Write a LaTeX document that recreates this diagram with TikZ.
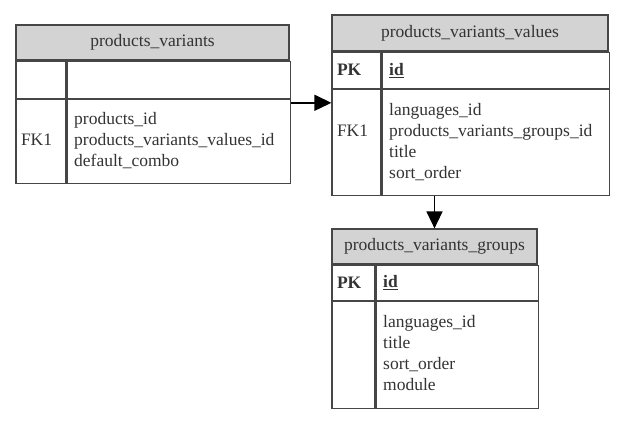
\documentclass[tikz,border=0pt]{standalone}
\usepackage{fontspec}
\setmainfont{Liberation Serif}
\usetikzlibrary{positioning,arrows.meta}
\definecolor{headgray}{RGB}{211,211,211}
\definecolor{linegray}{RGB}{70,70,70}
\tikzstyle{tablehead} = [rectangle, draw=linegray, line width=1.2pt, fill=headgray, text centered, minimum height=35pt]
\tikzstyle{keycell} = [rectangle, draw=linegray, line width=1.2pt, align=left, inner xsep=5pt, inner ysep=0pt]
\tikzstyle{fieldcell} = [rectangle, draw=linegray, line width=1.2pt, align=left, inner xsep=7pt, inner ysep=0pt]
\tikzstyle{connector} = [line width=1.5pt, -{Triangle[length=17pt,width=16pt]}]

\begin{document}
\begin{tikzpicture}[x=1pt, y=1pt, font=\fontsize{17.5}{21}\selectfont, text=black!80]
            \useasboundingbox (0,0) rectangle (624,421);
            % products_variants
            \node (pvhead) [tablehead, minimum width=273pt] at (152.5,378.5) {products\_variants};
            \node (pvkey1) [keycell, text width=40pt, minimum height=37pt, below right=0pt of pvhead.south west] {};
            \node (pvfield1) [fieldcell, text width=209pt, minimum height=37pt, right=0pt of pvkey1] {};
            \node (pvkey2) [keycell, text width=40pt, minimum height=84pt, below=0pt of pvkey1] {\strut\\FK1\\\strut};
            \node (pvfield2) [fieldcell, text width=209pt, minimum height=84pt, right=0pt of pvkey2] {\strut products\_id\\products\_variants\_values\_id\\default\_combo\strut};
            % products_variants_values
            \node (pvvhead) [tablehead, minimum width=276pt, minimum height=36pt] at (470,388) {products\_variants\_values};
            \node (pvvkey1) [keycell, text width=39pt, minimum height=36pt, below right=0pt of pvvhead.south west] {\textbf{PK}};
            \node (pvvfield1) [fieldcell, text width=213pt, minimum height=36pt, right=0pt of pvvkey1] {\underline{\textbf{id}}};
            \node (pvvkey2) [keycell, text width=39pt, minimum height=106pt, below=0pt of pvvkey1] {\strut\\FK1\\\strut\\\strut};
            \node (pvvfield2) [fieldcell, text width=213pt, minimum height=106pt, right=0pt of pvvkey2] {\strut languages\_id\\products\_variants\_groups\_id\\title\\sort\_order\strut};
            % products_variants_groups
            \node (pvghead) [tablehead, minimum width=205pt] at (434.5,174.5) {products\_variants\_groups};
            \node (pvgkey1) [keycell, text width=33pt, minimum height=35pt, below right=0pt of pvghead.south west] {\textbf{PK}};
            \node (pvgfield1) [fieldcell, text width=148pt, minimum height=35pt, right=0pt of pvgkey1] {\underline{\textbf{id}}};
            \node (pvgkey2) [keycell, text width=33pt, minimum height=107pt, below=0pt of pvgkey1] {};
            \node (pvgfield2) [fieldcell, text width=148pt, minimum height=107pt, right=0pt of pvgkey2] {\strut languages\_id\\title\\sort\_order\\module\strut};
            \draw [connector] ([yshift=-4pt]pvfield2.north east) -- ([yshift=-4pt]pvfield2.north east -| pvvkey2.west);
            \draw [connector] (pvvfield2.south -| pvghead.north) -- (pvghead.north);
        \end{tikzpicture}
\end{document}
